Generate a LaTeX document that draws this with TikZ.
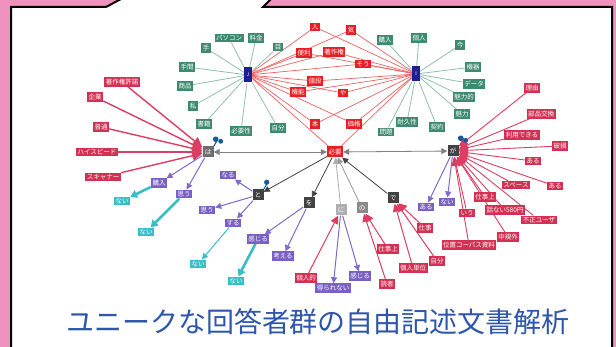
\documentclass[tikz,border=0pt]{standalone}
\usepackage{fontspec}
\setmainfont{Noto Sans CJK JP}
\usetikzlibrary{arrows.meta}
\pgfdeclarelayer{bgl}
\pgfdeclarelayer{edl}
\pgfsetlayers{bgl,edl,main}
\definecolor{pinkbg}{RGB}{240,146,190}
\definecolor{gfill}{RGB}{62,138,112}
\definecolor{gline}{RGB}{145,192,175}
\definecolor{rfill}{RGB}{232,30,36}
\definecolor{rline}{RGB}{242,96,96}
\definecolor{cfill}{RGB}{212,48,84}
\definecolor{cline}{RGB}{218,62,98}
\definecolor{pfill}{RGB}{122,96,196}
\definecolor{pline}{RGB}{128,106,205}
\definecolor{tfill}{RGB}{56,190,200}
\definecolor{bhub}{RGB}{30,30,150}
\definecolor{dhub}{RGB}{66,66,66}
\definecolor{ghub}{RGB}{110,110,110}
\definecolor{lhub}{RGB}{175,175,175}
\definecolor{titlec}{RGB}{46,86,170}
\definecolor{pinc}{RGB}{20,90,150}
\begin{document}
\begin{tikzpicture}[x=1pt,y=-1pt,
  lab/.style={inner xsep=1.5pt, inner ysep=1.6pt, text=white, font=\fontsize{6.5}{6.5}\selectfont},
  gn/.style={lab, fill=gfill},
  rn/.style={lab, fill=rfill},
  cn/.style={lab, fill=cfill},
  pn/.style={lab, fill=pfill},
  tn/.style={lab, fill=tfill},
  bh/.style={lab, fill=bhub, minimum width=8pt, minimum height=15pt, inner sep=0.3pt, font=\fontsize{5}{5}\selectfont},
  hb/.style={lab, inner sep=1pt, minimum width=11pt, minimum height=11pt},
  gl/.style={draw=gline, line width=0.8pt},
  rl/.style={draw=rline, line width=0.7pt},
  clt/.style={draw=cline, line width=1.4pt, -{Triangle[length=10pt,width=10pt]}},
  crt/.style={draw=cline, line width=0.9pt, -{Triangle[length=9pt,width=8pt]}},
  pl/.style={draw=pline, line width=1pt, -{Triangle[length=6pt,width=6pt]}},
  tl/.style={draw=tfill, line width=2.6pt, -{Triangle[length=7pt,width=8pt]}},
  tlt/.style={draw=tfill, line width=1pt, -{Triangle[length=6pt,width=6pt]}},
  dl/.style={draw=dhub, line width=0.8pt, -{Triangle[length=6pt,width=6pt]}},
  gyl/.style={draw=gray, line width=0.8pt, {Triangle[length=6pt,width=6pt]}-{Triangle[length=6pt,width=6pt]}},
  ll/.style={draw=lhub, line width=0.8pt, -{Triangle[length=6pt,width=6pt]}},
  rdl/.style={draw=cline, line width=1pt, -{Triangle[length=8pt,width=8pt]}}
]
\useasboundingbox (0,0) rectangle (616,347);
\begin{pgfonlayer}{bgl}
  \fill[pinkbg] (0,0) rectangle (616,347);
  \fill[white] (11,348) -- (11,7) -- (106,7) -- (121,-1) -- (271,-1) -- (263,7) -- (612,7) -- (612,348) -- cycle;
  \draw[line width=2pt] (11,348) -- (11,7) -- (106,7) -- (121,-1);
  \draw[line width=2pt] (271,-1) -- (263,7) -- (612,7) -- (612,348);
\end{pgfonlayer}

% hubs
\node[bh] (J) at (248,75) {J};
\node[bh] (I) at (416,74) {I};
\node[hb, fill=ghub] (ha) at (208,152) {は};
\node[lab, fill=rfill, minimum height=11pt] (hitsuyo) at (335,152) {必要};
\node[hb, fill=dhub] (ga) at (453,151) {が};
\node[hb, fill=dhub] (to) at (258,195) {と};
\node[hb, fill=dhub] (wo) at (309,203) {を};
\node[hb, fill=lhub] (ni) at (341,210) {に};
\node[hb, fill=ghub!80] (no) at (362,208) {の};
\node[hb, fill=dhub] (de) at (393,198) {で};

% green left
\node[gn] (g1) at (229,38) {パソコン};
\node[gn] (g2) at (256,38) {料金};
\node[gn] (g3) at (206,48) {手};
\node[gn] (g4) at (278,47) {目};
\node[gn] (g5) at (187,67) {手間};
\node[gn] (g6) at (185,86) {商品};
\node[gn] (g7) at (193,106) {私};
\node[gn] (g8) at (204,124) {書籍};
\node[gn] (g9) at (241,131) {必要性};
\node[gn] (g10) at (278,128) {自分};
% green right
\node[gn] (h1) at (385,40) {購入};
\node[gn] (h2) at (419,38) {個人};
\node[gn] (h3) at (460,45) {今};
\node[gn] (h4) at (473,67) {機器};
\node[gn] (h5) at (474,84) {データ};
\node[gn] (h6) at (464,97) {魅力的};
\node[gn] (h7) at (462,114) {魅力};
\node[gn] (h8) at (437,127) {契約};
\node[gn] (h9) at (407,122) {耐久性};
\node[gn] (h10) at (386,132) {問題};
% red centre
\node[rn] (r1) at (315,27) {人};
\node[rn] (r2) at (351,30) {気};
\node[rn] (r3) at (304,53) {便利};
\node[rn] (r4) at (334,52) {著作権};
\node[rn] (r5) at (363,64) {そう};
\node[rn] (r6) at (315,81) {値段};
\node[rn] (r7) at (298,92) {機能};
\node[rn] (r8) at (343,93) {や};
\node[rn] (r9) at (315,124) {本};
\node[rn] (r10) at (354,124) {価格};
% left crimson
\node[cn] (c1) at (122,82) {著作権許諾};
\node[cn] (c2) at (95,97) {企業};
\node[cn] (c3) at (101,127) {普通};
\node[cn] (c4) at (97,152) {ハイスピード};
\node[cn] (c5) at (103,177) {スキャナー};
% right crimson
\node[cn] (d1) at (532,88) {理由};
\node[cn] (d2) at (541,114) {部品交換};
\node[cn] (d3) at (522,135) {利用できる};
\node[cn] (d4) at (560,146) {破損};
\node[cn] (d5) at (533,161) {ある};
\node[cn] (d6) at (516,185) {スペース};
\node[cn] (d7) at (555,186) {ある};
\node[cn] (d8) at (485,197) {仕事上};
\node[cn] (d9) at (505,210) {話ない580円};
\node[cn] (d10) at (539,220) {不正ユーザ};
\node[cn] (d11) at (467,213) {いう};
\node[cn] (d12) at (508,237) {中規外};
\node[cn] (d13) at (469,245) {位置コーパス資料};
% bottom
\node[cn] (e1) at (306,278) {個人的};
\node[pn] (e2) at (333,288) {得られない};
\node[pn] (e3) at (360,276) {感じる};
\node[cn] (e4) at (387,284) {読者};
\node[cn] (e5) at (388,249) {仕事上};
\node[cn] (e6) at (413,268) {個人単位};
\node[cn] (e7) at (437,261) {自分};
\node[cn] (e8) at (425,228) {仕事};
% purple / cyan
\node[pn] (p1) at (159,183) {購入};
\node[pn] (p2) at (184,194) {思う};
\node[pn] (p3) at (228,175) {なる};
\node[pn] (p4) at (207,210) {思う};
\node[pn] (p5) at (233,223) {する};
\node[pn] (p6) at (258,239) {感じる};
\node[pn] (p7) at (283,256) {考える};
\node[tn] (t1) at (122,201) {ない};
\node[tn] (t2) at (146,232) {ない};
\node[tn] (t3) at (198,264) {ない};
\node[tn] (t4) at (236,281) {ない};
\node[pn] (q1) at (426,207) {ある};
\node[pn] (q2) at (447,202) {ない};

% title
\node[font=\fontsize{28}{28}\selectfont, text=titlec] (title) at (318,322) {ユニークな回答者群の自由記述文書解析};

\begin{pgfonlayer}{edl}
  \foreach \n in {g1,g2,g3,g4,g5,g6,g7,g8,g9,g10} \draw[gl] (J) -- (\n);
  \foreach \n in {h1,h2,h3,h4,h5,h6,h7,h8,h9,h10} \draw[gl] (I) -- (\n);
  \foreach \n in {r1,r2,r3,r4,r5,r6,r7,r8,r9,r10,hitsuyo} {\draw[rl] (J) -- (\n); \draw[rl] (I) -- (\n);}
  \foreach \n in {c1,c2,c3,c4,c5} \draw[clt] (\n) -- (ha);
  \foreach \n in {d1,d2,d3,d4,d5,d6,d7,d8,d9,d10,d11,d12,d13} \draw[crt] (\n) -- (ga);
  \draw[gyl] (ha) -- (hitsuyo);
  \draw[gyl] (hitsuyo) -- (ga);
  \draw[dl] (hitsuyo) -- (to);
  \draw[dl] (hitsuyo) -- (wo);
  \draw[ll] (ni) -- (hitsuyo);
  \draw[ll, draw=gray!80] (no) -- (hitsuyo);
  \draw[dl] (de) -- (hitsuyo);
  \draw[pl] (ha) -- (p1);
  \draw[pl] (ha) -- (p2);
  \draw[pl] (to) -- (p3);
  \draw[pl] (to) -- (p4);
  \draw[pl] (to) -- (p5);
  \draw[pl] (wo) -- (p6);
  \draw[pl] (wo) -- (p7);
  \draw[pl] (ni) -- (e2);
  \draw[pl] (ni) -- (e3);
  \draw[rdl] (e1) -- (ni);
  \draw[rdl] (e5) -- (no);
  \draw[rdl] (e4) -- (no);
  \draw[rdl] (e8) -- (de);
  \draw[rdl] (e6) -- (de);
  \draw[rdl] (e7) -- (de);
  \draw[pl] (ga) -- (q1);
  \draw[pl] (ga) -- (q2);
  \draw[tl] (p1) -- (t1);
  \draw[tl] (p2) -- (t2);
  \draw[tlt] (p5) -- (t3);
  \draw[tl] (p6) -- (t4);
\end{pgfonlayer}

% pins
\draw[pinc, line width=1pt] (ha.north east) -- ++(3,-5);
\fill[pinc] (ha.north east) ++(2,-7) circle (2.8);
\fill[pinc] (ha.north east) ++(7,-5) circle (2.4);
\draw[pinc, line width=1pt] (to.north east) -- ++(3,-5);
\fill[pinc] (to.north east) ++(3,-7) circle (2.6);
\fill[pinc] (ga.north east) ++(2,-7) circle (2.8);
\fill[pinc] (ga.north east) ++(7,-5) circle (2.4);
\end{tikzpicture}
\end{document}
